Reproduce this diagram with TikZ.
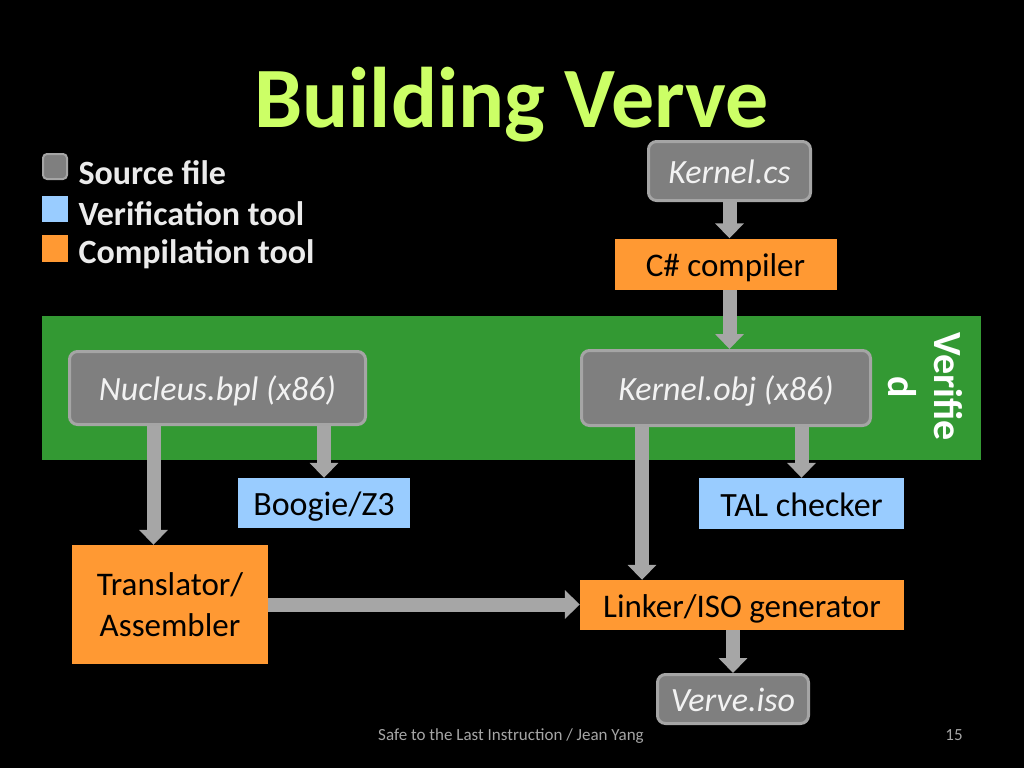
\documentclass[tikz,border=0pt]{standalone}
\usepackage{fontspec}
\setmainfont{Carlito}
\usetikzlibrary{arrows.meta}
\definecolor{titlegreen}{HTML}{CCFF66}
\definecolor{boxgray}{HTML}{7F7F7F}
\definecolor{boxedge}{HTML}{A5A5A5}
\definecolor{verifblue}{HTML}{99CCFF}
\definecolor{comporange}{HTML}{FF9933}
\definecolor{bandgreen}{HTML}{339933}
\definecolor{arrowgray}{HTML}{A6A6A6}
\definecolor{legendtext}{HTML}{EBEBEB}

\begin{document}
\begin{tikzpicture}[x=1pt,y=-1pt,
    srcfile/.style={draw=boxedge,fill=boxgray,line width=3pt,rounded corners=8pt,inner sep=0pt,
        text=white!95!black,font=\itshape\fontsize{34}{40}\selectfont},
    veriftool/.style={fill=verifblue,inner sep=0pt,text=black,font=\fontsize{34}{40}\selectfont},
    comptool/.style={fill=comporange,inner sep=0pt,text=black,font=\fontsize{33}{41}\selectfont},
    onerow/.style={text height=26pt,text depth=1pt},
    flow/.style={draw=arrowgray,line width=14pt,-{Triangle[width=28pt,length=15pt]}},
    legend/.style={anchor=base west,text=legendtext,font=\bfseries\fontsize{34}{40}\selectfont}]
    \useasboundingbox (0,0) rectangle (1024,768);
    \fill[black] (0,0) rectangle (1024,768);

    % title and legend
    \node[anchor=base,text=titlegreen,font=\bfseries\fontsize{86}{92}\selectfont] (title) at (511.5,127) {Building Verve};
    \node[srcfile,line width=2pt,rounded corners=4pt,minimum width=24,minimum height=25] (keysrc) at (55,166.5) {};
    \node[fill=verifblue,inner sep=0pt,minimum width=26,minimum height=26] (keyverif) at (55,209) {};
    \node[fill=comporange,inner sep=0pt,minimum width=26,minimum height=27] (keycomp) at (55,248.5) {};
    \node[legend] (txtsrc) at (75,184) {Source file};
    \node[legend] (txtverif) at (75,225) {Verification tool};
    \node[legend] (txtcomp) at (75,263) {Compilation tool};

    % verified band
    \fill[bandgreen] (42,316) rectangle (981,460);
    \node[rotate=-90,align=center,text=white,font=\bfseries\fontsize{40}{46}\selectfont] (verified) at (925,387) {Verifie\\d};

    % boxes
    \node[srcfile,onerow,minimum width=162,minimum height=59] (kcs) at (729.5,171) {Kernel.cs};
    \node[comptool,onerow,minimum width=222,minimum height=51] (csc) at (725.5,264) {C\# compiler};
    \node[srcfile,onerow,minimum width=296,minimum height=73] (nuc) at (217.5,388) {Nucleus.bpl (x86)};
    \node[srcfile,onerow,minimum width=289,minimum height=75] (kobj) at (726,388) {Kernel.obj (x86)};
    \node[veriftool,onerow,minimum width=172,minimum height=50] (boogie) at (324,503) {Boogie/Z3};
    \node[veriftool,onerow,minimum width=205,minimum height=51] (tal) at (801.5,503.5) {TAL checker};
    \node[comptool,align=center,minimum width=196,minimum height=119] (trans) at (170,604.5) {Translator/\\Assembler};
    \node[comptool,onerow,minimum width=324,minimum height=50] (linker) at (742,605) {Linker/ISO generator};
    \node[srcfile,onerow,minimum width=151,minimum height=49] (iso) at (733,699) {Verve.iso};

    % arrows
    \draw[flow] (kcs.south) -- (kcs.south |- csc.north);
    \draw[flow] (kcs.south |- csc.south) -- (kcs.south |- kobj.north);
    \draw[flow] ([xshift=-64pt]nuc.south) -- ([xshift=-64pt]nuc.south |- trans.north);
    \draw[flow] (boogie.north |- nuc.south) -- (boogie.north);
    \draw[flow] ([xshift=-84pt]kobj.south) -- ([xshift=-84pt]kobj.south |- linker.north);
    \draw[flow] (tal.north |- kobj.south) -- (tal.north);
    \draw[flow] (trans.east) -- (trans.east -| linker.west);
    \draw[flow] (iso.north |- linker.south) -- (iso.north);

    % footer
    \node[anchor=base,text=arrowgray,font=\fontsize{17}{20}\selectfont] (foot) at (511,740) {Safe to the Last Instruction / Jean Yang};
    \node[anchor=base,text=arrowgray,font=\fontsize{17}{20}\selectfont] (page) at (954,740) {15};
\end{tikzpicture}
\end{document}
